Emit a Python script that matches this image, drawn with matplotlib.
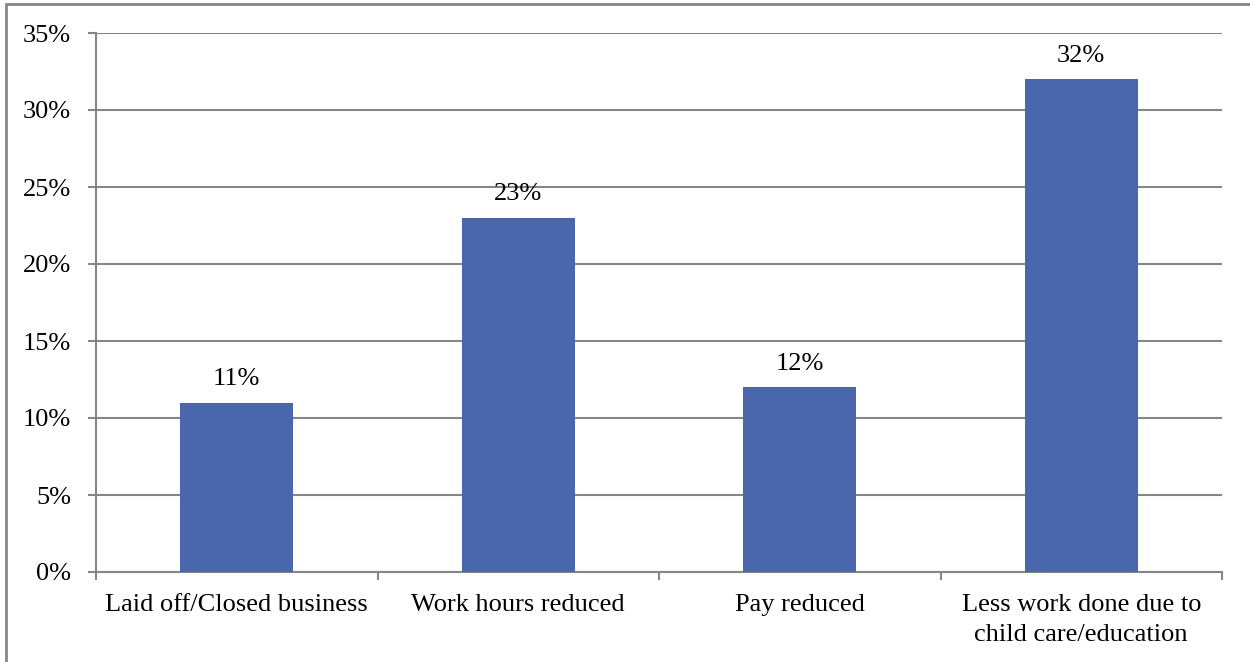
import matplotlib.pyplot as plt
from matplotlib.patches import Rectangle

categories = ['Laid off/Closed business', 'Work hours reduced', 'Pay reduced',
              'Less work done due to\nchild care/education']
shares = [11, 23, 12, 32]
y_ticks = [0, 5, 10, 15, 20, 25, 30, 35]

BAR_COLOR = '#4A66AC'
GRID_COLOR = '#868686'

plt.rcParams['font.family'] = ['Liberation Serif', 'DejaVu Serif']

fig = plt.figure(figsize=(12.5, 6.62), dpi=100)
ax = fig.add_axes([96 / 1250, 1 - 572 / 662, (1222 - 96) / 1250, (572 - 33) / 662])

x = list(range(len(categories)))
ax.bar(x, shares, width=0.4, color=BAR_COLOR, zorder=3)
for xi, v in zip(x, shares):
    ax.annotate(f'{v}%', (xi, v), xytext=(0, 9), textcoords='offset points',
                ha='center', va='bottom', fontsize=19)

ax.set_xlim(-0.5, len(categories) - 0.5)
ax.set_ylim(0, 35)
ax.set_yticks(y_ticks)
ax.set_yticklabels([f'{t}%' for t in y_ticks], fontsize=19)
ax.yaxis.grid(True, color=GRID_COLOR, linewidth=1.5, zorder=0)
ax.tick_params(axis='y', length=6, width=1.5, color=GRID_COLOR, pad=12)

# category labels centred, tick marks on category boundaries
ax.set_xticks(x)
ax.set_xticklabels(categories, fontsize=19, linespacing=1.45)
ax.tick_params(axis='x', which='major', length=0, pad=16)
ax.set_xticks([i - 0.5 for i in range(len(categories) + 1)], minor=True)
ax.tick_params(axis='x', which='minor', length=6, width=1.5, color=GRID_COLOR)

for side in ['top', 'right']:
    ax.spines[side].set_visible(False)
for side in ['left', 'bottom']:
    ax.spines[side].set_color(GRID_COLOR)
    ax.spines[side].set_linewidth(1.5)

# outer frame of the chart area
fig.patches.append(Rectangle((6 / 1250, -0.1), 1.2, 1 - 4 / 662 + 0.1,
                             transform=fig.transFigure, fill=False,
                             edgecolor=GRID_COLOR, linewidth=2))

fig.savefig('out.png', dpi=100)
